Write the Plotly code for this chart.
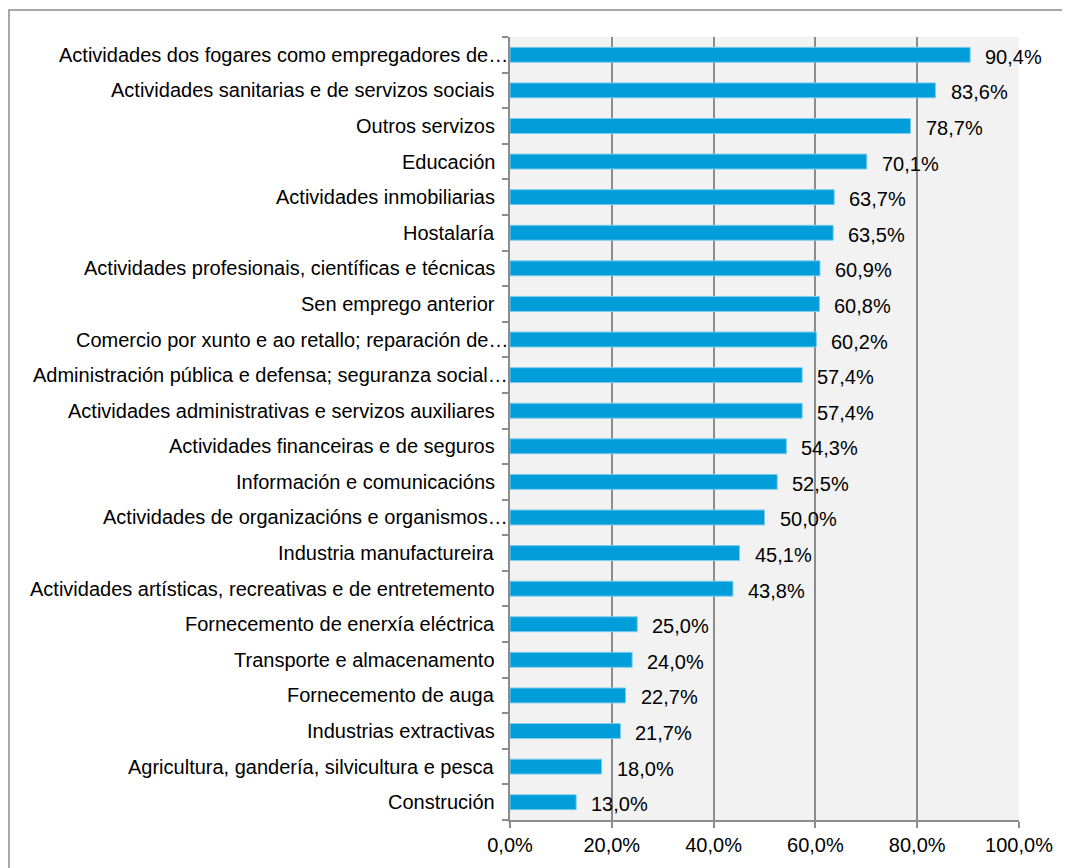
import plotly.graph_objects as go

categories = [
    "Actividades dos fogares como empregadores de…",
    "Actividades sanitarias e de servizos sociais",
    "Outros servizos",
    "Educación",
    "Actividades inmobiliarias",
    "Hostalaría",
    "Actividades profesionais, científicas e técnicas",
    "Sen emprego anterior",
    "Comercio por xunto e ao retallo; reparación de…",
    "Administración pública e defensa; seguranza social…",
    "Actividades administrativas e servizos auxiliares",
    "Actividades financeiras e de seguros",
    "Información e comunicacións",
    "Actividades de organizacións e organismos…",
    "Industria manufactureira",
    "Actividades artísticas, recreativas e de entretemento",
    "Fornecemento de enerxía eléctrica",
    "Transporte e almacenamento",
    "Fornecemento de auga",
    "Industrias extractivas",
    "Agricultura, gandería, silvicultura e pesca",
    "Construción",
]
values = [90.4, 83.6, 78.7, 70.1, 63.7, 63.5, 60.9, 60.8, 60.2, 57.4, 57.4,
          54.3, 52.5, 50.0, 45.1, 43.8, 25.0, 24.0, 22.7, 21.7, 18.0, 13.0]
x_ticks = [0, 20, 40, 60, 80, 100]
x_tick_labels = ["0,0%", "20,0%", "40,0%", "60,0%", "80,0%", "100,0%"]

FONT = "Liberation Sans, Arial, sans-serif"
FS = 20
GRID = "#8c8c8c"

fig = go.Figure()
fig.add_trace(go.Bar(
    x=values, y=categories, orientation="h",
    marker=dict(color="#009ddb", line=dict(color="#7fcdec", width=1)),
    hoverinfo="x+y",
))

annotations = []
for c, v in zip(categories, values):
    # value label to the right of the bar
    annotations.append(dict(
        x=v, y=c, xref="x", yref="y",
        text=f"{v:.1f}%".replace(".", ","),
        showarrow=False, xanchor="left", yanchor="middle",
        xshift=13, yshift=-2,
        font=dict(family=FONT, size=FS, color="#000000"),
    ))
    # category label left of the axis (truncated labels run up to the axis)
    annotations.append(dict(
        x=0, y=c, xref="paper", yref="y",
        text=c, showarrow=False, xanchor="right", yanchor="middle",
        xshift=0 if c.endswith("…") else -13,
        font=dict(family=FONT, size=FS, color="#000000"),
    ))

# page body has an 8px margin: figure is 1062x860 placed at (8, 8)
W, H = 1062, 860
L, R, T, B = 502, 51, 29, 46
pw = W - L - R
ph = H - T - B

fig.update_layout(
    width=W, height=H,
    margin=dict(l=L, r=R, t=T, b=B, pad=0),
    paper_bgcolor="#ffffff",
    plot_bgcolor="#f2f2f2",
    showlegend=False,
    bargap=0.58,
    font=dict(family=FONT, size=FS, color="#000000"),
    annotations=annotations,
    shapes=[dict(
        type="rect", xref="paper", yref="paper",
        x0=(1 - L) / pw, x1=(W + 30 - L) / pw,
        y0=-(B + 40) / ph, y1=1 + (T - 2) / ph,
        line=dict(color="#8c8c8c", width=1.5),
        fillcolor="rgba(0,0,0,0)", layer="below",
    )],
)

fig.update_xaxes(
    range=[0, 100], tickmode="array", tickvals=x_ticks, ticktext=x_tick_labels,
    showgrid=True, gridcolor=GRID, gridwidth=1.5,
    showline=True, linecolor=GRID, linewidth=1.5,
    ticks="outside", ticklen=6, tickcolor=GRID, tickwidth=1.5,
    zeroline=False, fixedrange=True,
)
fig.update_yaxes(
    categoryorder="array", categoryarray=categories[::-1],
    showgrid=False, zeroline=False, showticklabels=False,
    showline=True, linecolor=GRID, linewidth=1.5,
    ticks="outside", ticklen=6, tickcolor=GRID, tickwidth=1.5,
    tickson="boundaries",
    fixedrange=True,
)

fig.write_html("out.html")
